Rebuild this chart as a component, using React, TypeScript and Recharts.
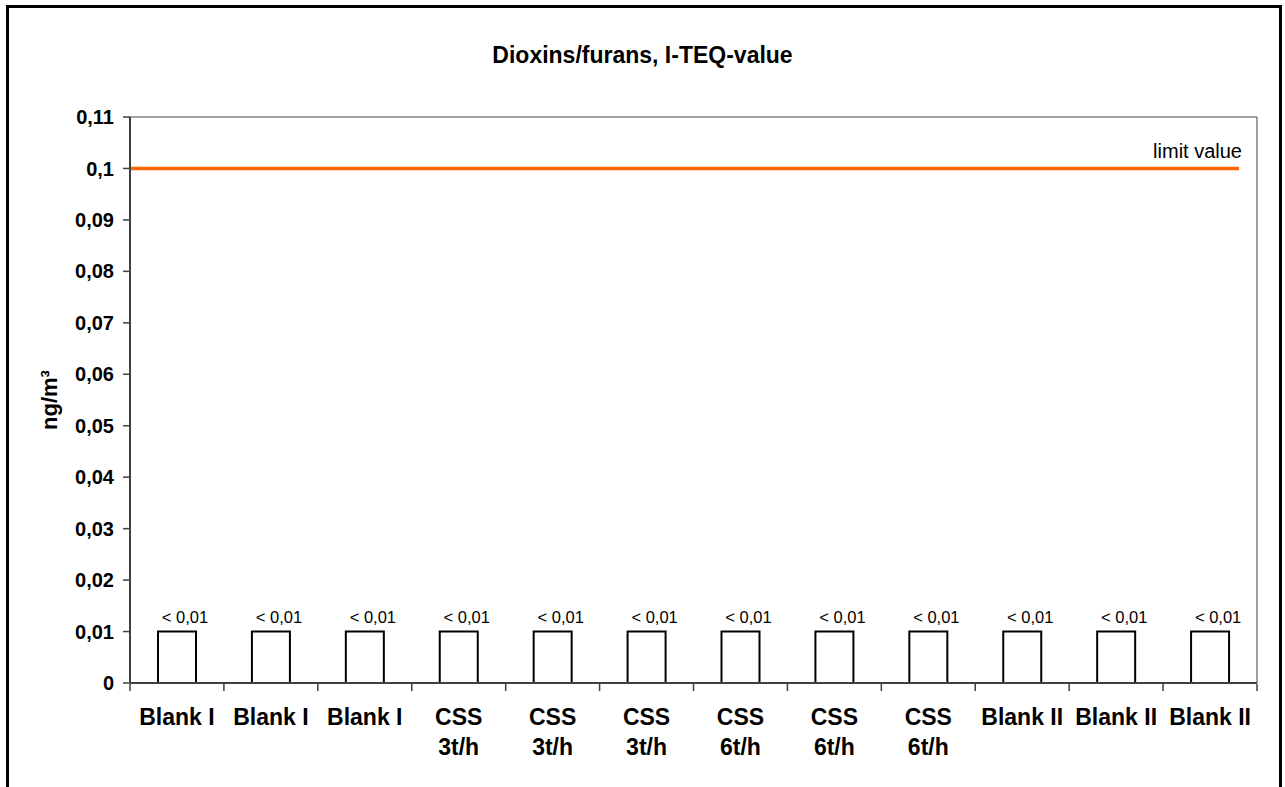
import { Bar, ComposedChart, Label, LabelList, ReferenceLine, XAxis, YAxis } from 'recharts';

const categories = [
  'Blank I',
  'Blank I',
  'Blank I',
  'CSS\n3t/h',
  'CSS\n3t/h',
  'CSS\n3t/h',
  'CSS\n6t/h',
  'CSS\n6t/h',
  'CSS\n6t/h',
  'Blank II',
  'Blank II',
  'Blank II',
];
const values = [0.01, 0.01, 0.01, 0.01, 0.01, 0.01, 0.01, 0.01, 0.01, 0.01, 0.01, 0.01];
const valueLabels = ['< 0,01', '< 0,01', '< 0,01', '< 0,01', '< 0,01', '< 0,01', '< 0,01', '< 0,01', '< 0,01', '< 0,01', '< 0,01', '< 0,01'];
const yTicks = [0, 0.01, 0.02, 0.03, 0.04, 0.05, 0.06, 0.07, 0.08, 0.09, 0.1, 0.11];
const boundaryTicks = [0, 1, 2, 3, 4, 5, 6, 7, 8, 9, 10, 11, 12];
const limitValue = 0.1;

const data = categories.map((name, i) => ({
  idx: i,
  name,
  value: values[i],
  label: valueLabels[i],
}));

const FONT = "'Liberation Sans', Arial, sans-serif";
const AXIS = '#404040';
const FRAME = '#808080';

const formatY = (v: number) => String(Number(v.toFixed(2))).replace('.', ',');

function CategoryTick({ x, y, payload }: any) {
  const lines = categories[payload.value].split('\n');
  return (
    <text
      x={x}
      y={y + 42}
      textAnchor="middle"
      fontFamily={FONT}
      fontWeight="bold"
      fontSize={23}
      fill="#000"
    >
      {lines.map((line, i) => (
        <tspan key={i} x={x} dy={i === 0 ? 0 : 30}>
          {line}
        </tspan>
      ))}
    </text>
  );
}

function YTitle({ viewBox }: any) {
  const cx = viewBox.x + 49;
  const cy = viewBox.y + viewBox.height / 2;
  return (
    <text
      x={cx}
      y={cy}
      transform={`rotate(-90 ${cx} ${cy})`}
      textAnchor="middle"
      dominantBaseline="central"
      fontFamily={FONT}
      fontWeight="bold"
      fontSize={22}
      fill="#000"
    >
      ng/m³
    </text>
  );
}

function LimitLine({ x1, y1, x2, y2 }: any) {
  return (
    <g>
      <line x1={x1} y1={y1} x2={x2 - 18} y2={y2} stroke="#FF6600" strokeWidth={3.5} />
      <text x={x2 - 15} y={y1 - 10} textAnchor="end" fontFamily={FONT} fontSize={20} fill="#000">
        limit value
      </text>
    </g>
  );
}

function BarValue({ x, y, width, value }: any) {
  return (
    <text x={x + width / 2 + 8} y={y - 9} textAnchor="middle" fontFamily={FONT} fontSize={16.5} fill="#000">
      {value}
    </text>
  );
}

export default function App() {
  return (
    <div style={{ position: 'absolute', left: 0, top: 0, width: 1285, height: 787, background: '#fff', overflow: 'hidden' }}>
      <div
        style={{
          position: 'absolute',
          left: 6,
          top: 5,
          width: 1276,
          height: 820,
          border: '3px solid #000',
          boxSizing: 'border-box',
        }}
      />
      <div
        style={{
          position: 'absolute',
          top: 40,
          left: 0,
          width: 1285,
          textAlign: 'center',
          lineHeight: '30px',
          fontFamily: FONT,
          fontWeight: 'bold',
          fontSize: 23,
          color: '#000',
        }}
      >
        Dioxins/furans, I-TEQ-value
      </div>
      <div style={{ position: 'absolute', left: 0, top: 0 }}>
        <ComposedChart width={1285} height={787} data={data} margin={{ top: 116, right: 27, bottom: 102, left: 0 }}>
          <XAxis xAxisId="top" orientation="top" dataKey="idx" height={1} tick={false} tickLine={false} axisLine={{ stroke: FRAME, strokeWidth: 1.5 }} />
          <YAxis yAxisId="right" orientation="right" width={1} domain={[0, 0.11]} tick={false} tickLine={false} axisLine={{ stroke: FRAME, strokeWidth: 1.5 }} />
          <XAxis
            xAxisId="bounds"
            type="number"
            dataKey="idx"
            domain={[0, 12]}
            ticks={boundaryTicks}
            interval={0}
            height={1}
            axisLine={false}
            tickLine={{ stroke: AXIS, strokeWidth: 1.5 }}
            tickSize={7}
            tickFormatter={() => ''}
          />
          <XAxis
            dataKey="idx"
            height={1}
            interval={0}
            tickSize={0}
            tickMargin={0}
            tickLine={false}
            axisLine={{ stroke: AXIS, strokeWidth: 2 }}
            tick={<CategoryTick />}
          />
          <YAxis
            width={130}
            domain={[0, 0.11]}
            ticks={yTicks}
            interval={0}
            tickSize={7}
            tickMargin={9}
            tickFormatter={formatY}
            tick={{ fontFamily: FONT, fontWeight: 'bold', fontSize: 20, fill: '#000' }}
            tickLine={{ stroke: AXIS, strokeWidth: 1.5 }}
            axisLine={{ stroke: AXIS, strokeWidth: 2 }}
          >
            <Label content={<YTitle />} />
          </YAxis>
          <ReferenceLine y={limitValue} shape={<LimitLine />} />
          <Bar dataKey="value" fill="#fff" stroke="#000" strokeWidth={2} barSize={38} isAnimationActive={false}>
            <LabelList dataKey="label" content={<BarValue />} />
          </Bar>
        </ComposedChart>
      </div>
    </div>
  );
}
